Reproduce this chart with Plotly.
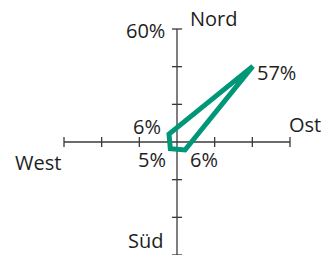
import math
import plotly.graph_objects as go

# Data
sectors = ["NO", "SO", "SW", "NW"]
sector_angles = [45, 135, 225, 315]  # compass degrees
values = [57, 6, 5, 6]
value_labels = ["57%", "6%", "5%", "6%"]
directions = ["Nord", "Ost", "Süd", "West"]
axis_max = 60
tick_values = [20, 40, 60]
axis_label = "60%"

W, H = 322, 255
cx, cy = 177, 142          # pixel centre
scale = 113 / 60           # px per percent

xr = [-cx / scale, (W - cx) / scale]
yr = [-(H - cy) / scale, cy / scale]

axis_color = "#3a3a3a"
poly_color = "#009778"
font = dict(family="Open Sans, Noto Sans, sans-serif", size=20, color="#1e1e1e")

fig = go.Figure()

# axes
fig.add_trace(go.Scatter(x=[-axis_max, axis_max], y=[0, 0], mode="lines",
                         line=dict(color=axis_color, width=1.3), hoverinfo="skip"))
fig.add_trace(go.Scatter(x=[0, 0], y=[yr[0] - 2, axis_max], mode="lines",
                         line=dict(color=axis_color, width=1.3), hoverinfo="skip"))

# ticks
tl = 2.7
tx, ty = [], []
for t in tick_values:
    for s in (1, -1):
        tx += [s * t, s * t, None]
        ty += [-tl, tl, None]
        tx += [-tl, tl, None]
        ty += [s * t, s * t, None]
fig.add_trace(go.Scatter(x=tx, y=ty, mode="lines",
                         line=dict(color=axis_color, width=1.3), hoverinfo="skip"))

# polygon
px_ = [v * math.sin(math.radians(a)) for v, a in zip(values, sector_angles)]
py_ = [v * math.cos(math.radians(a)) for v, a in zip(values, sector_angles)]
fig.add_trace(go.Scatter(x=px_ + [px_[0]], y=py_ + [py_[0]], mode="lines",
                         line=dict(color=poly_color, width=5), hoverinfo="skip"))

ann = []
# value labels
offs = [("left", 2, -6), ("left", 3, -10), ("right", -2, -11), ("right", -6, 8)]
for x, y, lab, (xa, xs, ys) in zip(px_, py_, value_labels, offs):
    ann.append(dict(x=x, y=y, text=lab, xanchor=xa, yanchor="middle",
                    xshift=xs, yshift=ys, showarrow=False, font=font))

# direction labels
dpos = [(0, axis_max, "left", 12, 11), (axis_max, 0, "left", -2, 18),
        (0, -axis_max, "right", -13, 15), (-axis_max, 0, "right", -2, -20)]
for d, (x, y, xa, xs, ys) in zip(directions, dpos):
    ann.append(dict(x=x, y=y, text=d, xanchor=xa, yanchor="middle",
                    xshift=xs, yshift=ys, showarrow=False, font=font, borderpad=0))

ann.append(dict(x=0, y=axis_max, text=axis_label, xanchor="right", yanchor="middle",
                xshift=-10, yshift=-1, showarrow=False, font=font))

fig.update_layout(
    width=W, height=H, margin=dict(l=0, r=0, t=0, b=0),
    paper_bgcolor="white", plot_bgcolor="white", showlegend=False,
    xaxis=dict(range=xr, visible=False, fixedrange=True),
    yaxis=dict(range=yr, visible=False, fixedrange=True),
    annotations=ann,
)

fig.write_html("out.html", config={"displayModeBar": False},
               post_script="document.body.style.margin='0';document.body.style.overflow='hidden';")
